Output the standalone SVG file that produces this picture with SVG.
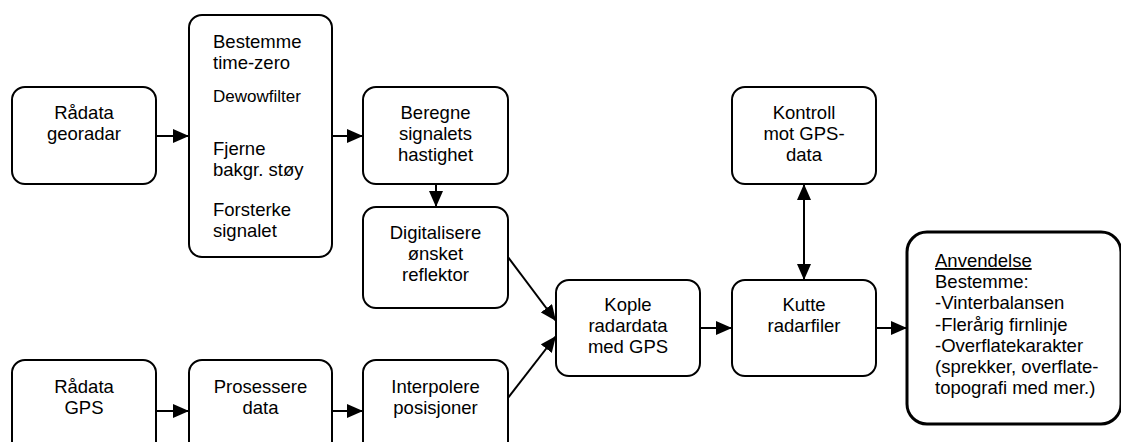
<svg xmlns="http://www.w3.org/2000/svg" width="1121" height="442" viewBox="0 0 1121 442">
<style>
.box{fill:#fff;stroke:#000;stroke-width:2}
.big{fill:#fff;stroke:#000;stroke-width:3}
.t{font-family:"Liberation Sans",Arial,sans-serif;font-size:18.5px;fill:#000}
.c{text-anchor:middle}
.e{stroke:#000;stroke-width:2;fill:none}
</style>
<defs>
<marker id="ah" viewBox="0 0 16 14" refX="16" refY="7" markerWidth="16" markerHeight="14" markerUnits="userSpaceOnUse" orient="auto-start-reverse">
<path d="M0,0 L16,7 L0,14 Z" fill="#000"/>
</marker>
</defs>
<rect width="1121" height="442" fill="#fff"/>
<g id="connectors">
<line class="e" x1="156" y1="136" x2="189" y2="136" marker-end="url(#ah)"/>
<line class="e" x1="332" y1="136" x2="363" y2="136" marker-end="url(#ah)"/>
<line class="e" x1="436" y1="184" x2="436" y2="207" marker-end="url(#ah)"/>
<line class="e" x1="508" y1="257" x2="556" y2="321" marker-end="url(#ah)"/>
<line class="e" x1="508" y1="398" x2="556" y2="336" marker-end="url(#ah)"/>
<line class="e" x1="156" y1="411" x2="189" y2="411" marker-end="url(#ah)"/>
<line class="e" x1="332" y1="411" x2="363" y2="411" marker-end="url(#ah)"/>
<line class="e" x1="700" y1="328" x2="732" y2="328" marker-end="url(#ah)"/>
<line class="e" x1="804" y1="184" x2="804" y2="280" marker-start="url(#ah)" marker-end="url(#ah)"/>
<line class="e" x1="876" y1="328" x2="907" y2="328" marker-end="url(#ah)"/>
</g>
<g id="radata-georadar">
<rect class="box" x="12" y="87" width="144" height="97" rx="13"/>
<text class="t c" x="84" y="119">Rådata</text>
<text class="t c" x="84" y="140">georadar</text>
</g>
<g id="prosessering">
<rect class="box" x="189" y="15" width="143" height="242" rx="13"/>
<text class="t" x="213" y="48">Bestemme</text>
<text class="t" x="213" y="69">time-zero</text>
<text class="t" x="213" y="102" style="font-size:17px">Dewowfilter</text>
<text class="t" x="213" y="155">Fjerne</text>
<text class="t" x="213" y="176">bakgr. støy</text>
<text class="t" x="213" y="216">Forsterke</text>
<text class="t" x="213" y="237">signalet</text>
</g>
<g id="beregne">
<rect class="box" x="363" y="87" width="145" height="97" rx="13"/>
<text class="t c" x="435.5" y="119">Beregne</text>
<text class="t c" x="435.5" y="140">signalets</text>
<text class="t c" x="435.5" y="161">hastighet</text>
</g>
<g id="digitalisere">
<rect class="box" x="363" y="207" width="145" height="101" rx="13"/>
<text class="t c" x="435.5" y="239">Digitalisere</text>
<text class="t c" x="435.5" y="260">ønsket</text>
<text class="t c" x="435.5" y="281">reflektor</text>
</g>
<g id="radata-gps">
<rect class="box" x="12" y="360" width="144" height="102" rx="13"/>
<text class="t c" x="84" y="393">Rådata</text>
<text class="t c" x="84" y="414">GPS</text>
</g>
<g id="prosessere-data">
<rect class="box" x="189" y="360" width="143" height="102" rx="13"/>
<text class="t c" x="260.5" y="393">Prosessere</text>
<text class="t c" x="260.5" y="414">data</text>
</g>
<g id="interpolere">
<rect class="box" x="363" y="360" width="145" height="102" rx="13"/>
<text class="t c" x="435.5" y="393">Interpolere</text>
<text class="t c" x="435.5" y="414">posisjoner</text>
</g>
<g id="kople">
<rect class="box" x="556" y="280" width="144" height="96" rx="13"/>
<text class="t c" x="628" y="311">Kople</text>
<text class="t c" x="628" y="332">radardata</text>
<text class="t c" x="628" y="353">med GPS</text>
</g>
<g id="kontroll">
<rect class="box" x="732" y="87" width="144" height="97" rx="13"/>
<text class="t c" x="804" y="119">Kontroll</text>
<text class="t c" x="804" y="140">mot GPS-</text>
<text class="t c" x="804" y="161">data</text>
</g>
<g id="kutte">
<rect class="box" x="732" y="280" width="144" height="96" rx="13"/>
<text class="t c" x="804" y="311">Kutte</text>
<text class="t c" x="804" y="332">radarfiler</text>
</g>
<g id="anvendelse">
<rect class="big" x="907" y="232" width="214" height="192" rx="20"/>
<text class="t" x="935" y="267" text-decoration="underline">Anvendelse</text>
<text class="t" x="935" y="288">Bestemme:</text>
<text class="t" x="935" y="309">-Vinterbalansen</text>
<text class="t" x="935" y="331">-Flerårig firnlinje</text>
<text class="t" x="935" y="352">-Overflatekarakter</text>
<text class="t" x="935" y="373">(sprekker, overflate-</text>
<text class="t" x="935" y="394">topografi med mer.)</text>
</g>
</svg>
